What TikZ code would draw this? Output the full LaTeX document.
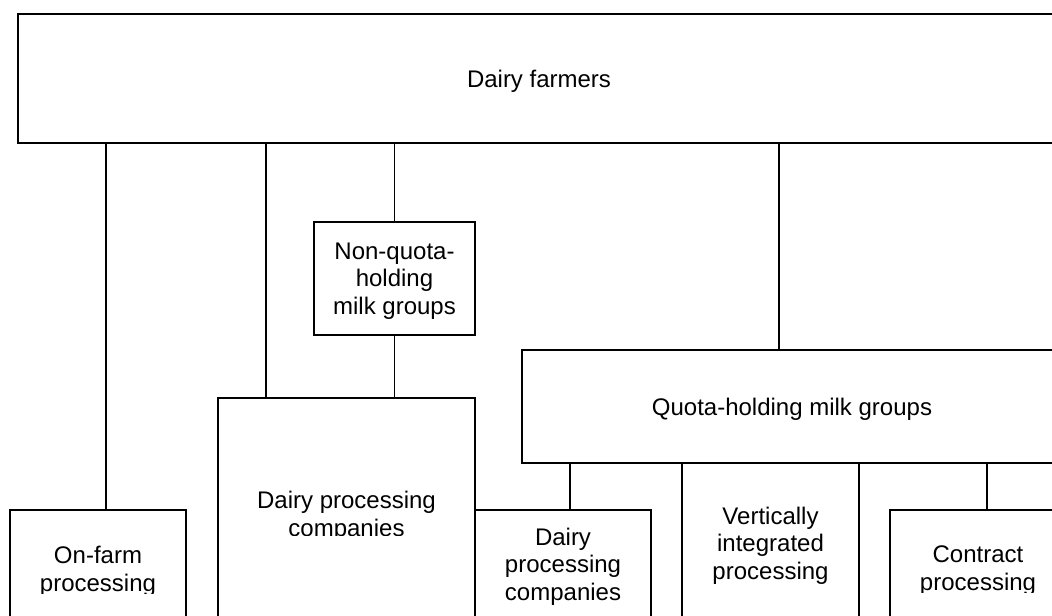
\documentclass[tikz,border=0pt]{standalone}
\usepackage{fontspec}
\setmainfont{Liberation Sans}
\usetikzlibrary{fit}
\tikzset{
  box/.style={draw, line width=0.8pt, inner sep=0pt},
  txt/.style={align=center, yshift=-2pt, font=\fontsize{18}{20.9}\selectfont},
  link/.style={line width=0.8pt}
}
\begin{document}
\begin{tikzpicture}[x=0.75pt, y=-0.75pt]
\clip (0,0) rectangle (1052,615);

% groups
\node[box, fit={(18,14) (1060,143)}] (farmers) {};
\node[box, fit={(314,222) (475,335)}] (nonquota) {};
\node[box, fit={(522,350) (1062,463)}] (quota) {};
\node[txt] (farmerstext) at (farmers.center) {Dairy farmers};
\node[txt] (nonquotatext) at (nonquota.center) {Non-quota-\\holding\\milk groups};
\node[txt] (quotatext) at (quota.center) {Quota-holding milk groups};

% processing, running off the page
\node[box, fit={(10,510) (186,627)}] (onfarm) {};
\node[box, fit={(218,398) (475,629)}] (bigdairy) {};
\node[box, fit={(475,510) (651,618)}] (smalldairy) {};
\node[box, fit={(682,463) (859,623)}] (vertical) {};
\node[box, fit={(890,510) (1066,626)}] (contract) {};
\node[txt] (smalldairytext) at (smalldairy.center) {Dairy\\processing\\companies};
\node[txt] (verticaltext) at (vertical.center) {Vertically\\integrated\\processing};

% labels cut at the bottom
\begin{scope}
\clip (10,510) rectangle (186,593);
\node[txt] (onfarmtext) at (onfarm.center) {On-farm\\processing};
\end{scope}
\begin{scope}
\clip (218,398) rectangle (475,535);
\node[txt] (bigdairytext) at (bigdairy.center) {Dairy processing\\companies};
\end{scope}
\begin{scope}
\clip (890,510) rectangle (1066,592);
\node[txt] (contracttext) at (contract.center) {Contract\\processing};
\end{scope}

% links
\draw[link] (106,0 |- farmers.south) -- (106,0 |- onfarm.north);
\draw[link] (266,0 |- farmers.south) -- (266,0 |- bigdairy.north);
\draw[link] (nonquota.north) -- (nonquota.north |- farmers.south);
\draw[link] (nonquota.south) -- (nonquota.south |- bigdairy.north);
\draw[link] (779,0 |- farmers.south) -- (779,0 |- quota.north);
\draw[link] (570,0 |- quota.south) -- (570,0 |- smalldairy.north);
\draw[link] (987,0 |- quota.south) -- (987,0 |- contract.north);
\end{tikzpicture}
\end{document}
